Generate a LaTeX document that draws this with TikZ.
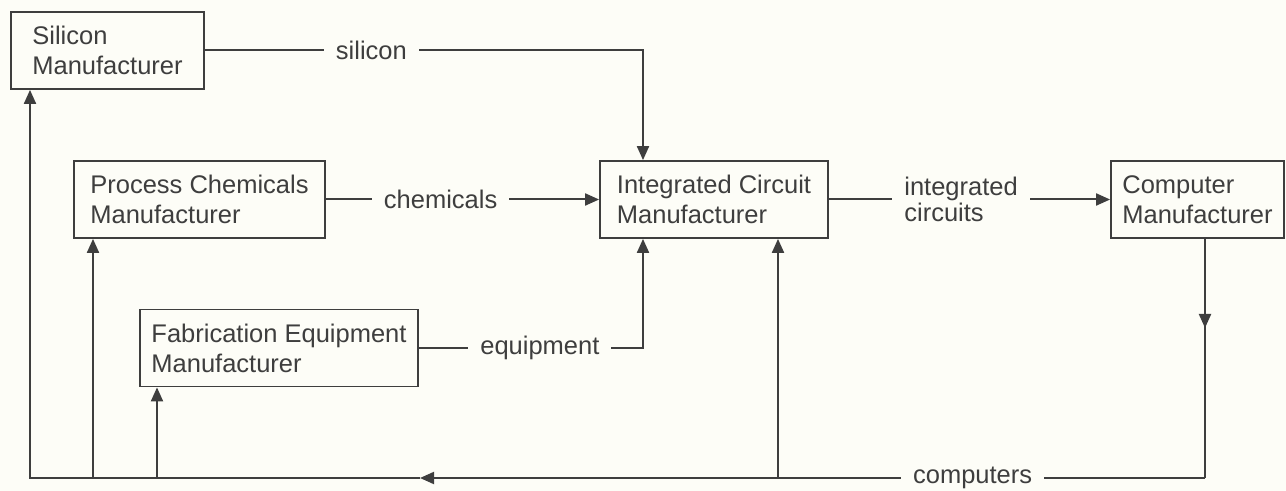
\documentclass[tikz,border=0pt]{standalone}
\usepackage{fontspec}
\setmainfont{Liberation Sans}
\usetikzlibrary{arrows.meta,positioning,calc}
\definecolor{inkCol}{RGB}{62,62,62}
\definecolor{paperCol}{RGB}{253,253,247}
\tikzset{
  mfr/.style={draw=inkCol,line width=0.9pt,align=left,minimum height=38.5pt,
              inner xsep=0pt,font=\fontsize{12.75}{15}\selectfont,text=inkCol},
  wire/.style={draw=inkCol,line width=1pt},
  feed/.style={wire,-{Triangle[length=7pt,width=6pt]}},
  lab/.style={fill=paperCol,inner xsep=6pt,inner ysep=1pt,align=left,
              font=\fontsize{12.75}{13}\selectfont,text=inkCol},
}
\begin{document}
\begin{tikzpicture}[x=0.5pt,y=-0.5pt]
      \fill[paperCol] (0,0) rectangle (1286,491);
      \useasboundingbox (0,0) rectangle (1286,491);
      % suppliers
      \node[mfr,minimum width=96.5pt] (silmfr) at (107.5,50.5) {Silicon\\Manufacturer};
      \node[mfr,minimum width=125.5pt] (chemmfr) at (199.5,199.5) {Process Chemicals\\Manufacturer};
      \node[mfr,minimum width=139pt] (fabmfr) at (279,348) {Fabrication Equipment\\Manufacturer};
      % chip and computer makers
      \node[mfr,minimum width=114pt] (icmfr) at (714,199.5) {Integrated Circuit\\Manufacturer};
      \node[mfr,minimum width=86.5pt] (compmfr) at (1197.5,199.5) {Computer\\Manufacturer};
      % bends and taps
      \coordinate (sitap) at (643,50.5);
      \coordinate (eqtap) at (643,348);
      \coordinate (cparr) at (1205,328);
      \coordinate (cpdrop) at (1205,478);
      \coordinate (backarr) at (420,478);
      \coordinate (loopend) at (30,478);
      \coordinate (chemtap) at (93,478);
      \coordinate (fabtap) at (157,478);
      \coordinate (ictap) at (778,478);
      % supplies
      \draw[feed] (silmfr.east) -- node[lab,pos=0.38] {silicon} (sitap) -- (sitap |- icmfr.north);
      \draw[feed] (chemmfr.east) -- node[lab,pos=0.42] {chemicals} (icmfr.west);
      \draw[feed] (fabmfr.east) -- node[lab,pos=0.54] {equipment} (eqtap) -- (eqtap |- icmfr.south);
      \draw[feed] (icmfr.east) -- node[lab,pos=0.47] {integrated\\circuits} (compmfr.west);
      % computers going back
      \draw[wire] (cpdrop |- compmfr.south) -- (cpdrop);
      \draw[feed] (cpdrop |- compmfr.south) -- (cparr);
      \draw[feed] (cpdrop) -- node[lab,pos=0.296] {computers} (backarr);
      \draw[feed] (backarr) -- (loopend) -- (loopend |- silmfr.south);
      \draw[feed] (chemtap) -- (chemtap |- chemmfr.south);
      \draw[feed] (fabtap) -- (fabtap |- fabmfr.south);
      \draw[feed] (ictap) -- (ictap |- icmfr.south);
    \end{tikzpicture}
\end{document}
